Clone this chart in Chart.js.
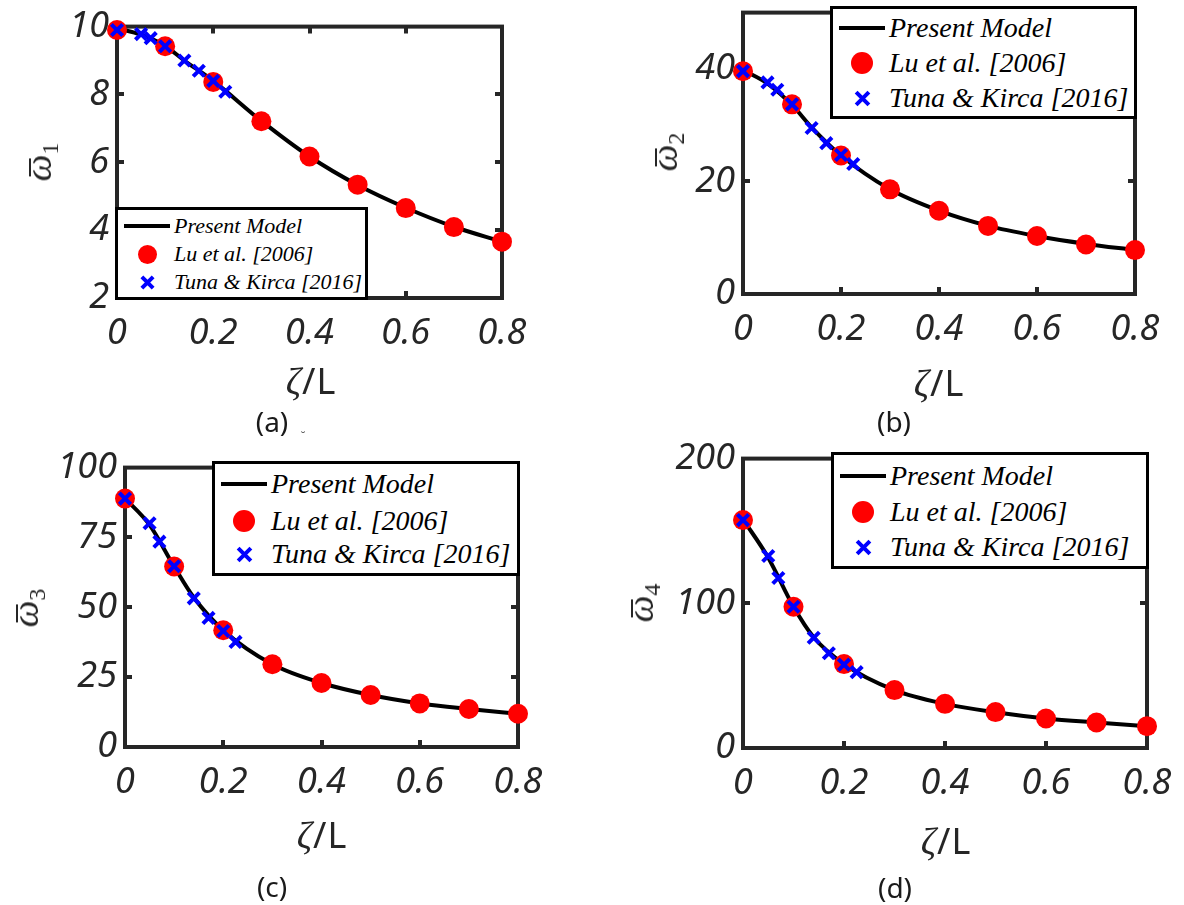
<!DOCTYPE html>
<html>
<head>
<meta charset="utf-8">
<script src="https://cdn.jsdelivr.net/npm/chart.js@4.4.0/dist/chart.umd.min.js"></script>
<style>
html,body{margin:0;padding:0;background:#fff;}
#root{position:relative;width:1184px;height:905px;overflow:hidden;background:#fff;}
#root canvas{position:absolute;}
.txt{position:absolute;white-space:nowrap;color:#262626;transform:translate(-50%,-50%);line-height:1;}
.xl{font-family:'Noto Sans',sans-serif;font-size:36px;letter-spacing:1px;}
.xl .z{font-family:'Liberation Serif',serif;font-style:italic;font-size:38px;}
.pl{font-family:'Noto Sans',sans-serif;font-size:28px;color:#1a1a1a;}
.yl{font-family:'Liberation Serif',serif;font-style:italic;font-size:38px;transform:translate(-50%,-50%) rotate(-90deg);}
.yl .om{position:relative;display:inline-block;line-height:1;}
.yl .om::before{content:'';position:absolute;left:0.14em;right:0.1em;top:0.27em;height:2px;background:#262626;}
.yl sub{font-family:'Liberation Serif',serif;font-style:normal;font-size:24px;vertical-align:-0.3em;line-height:0;}
.lgbox{position:absolute;background:#fff;border:3.5px solid #000;box-sizing:border-box;}
.lgline{position:absolute;height:4px;background:#000;}
.lgdot{position:absolute;border-radius:50%;background:#ff0000;}
.lgx{position:absolute;}
.lgtxt{position:absolute;white-space:nowrap;font-family:'Liberation Serif',serif;font-style:italic;color:#000;transform:translateY(-50%);line-height:1;}
</style>
</head>
<body>
<div id="root"></div>
<script>
// ---------------- data ----------------
const xTicks = [0, 0.2, 0.4, 0.6, 0.8];
const luX    = [0, 0.1, 0.2, 0.3, 0.4, 0.5, 0.6, 0.7, 0.8];
const tunaX  = [0, 0.05, 0.07, 0.1, 0.14, 0.17, 0.2, 0.225];
const modelX = [0, 0.05, 0.1, 0.14, 0.2, 0.3, 0.4, 0.5, 0.6, 0.7, 0.8];

const modelW1 = [9.95, 9.76, 9.43, 9.0, 8.4, 7.22, 6.17, 5.33, 4.66, 4.1, 3.66];
const luW1    = [9.9, 9.42, 8.37, 7.21, 6.17, 5.34, 4.65, 4.09, 3.66];
const tunaW1  = [9.9, 9.78, 9.66, 9.42, 9.0, 8.7, 8.4, 8.08];

const modelW2 = [39.8, 37.4, 33.6, 29.6, 24.6, 18.6, 14.8, 12.1, 10.3, 8.9, 7.8];
const luW2    = [39.6, 33.7, 24.6, 18.6, 14.8, 12.1, 10.3, 8.8, 7.8];
const tunaW2  = [39.6, 37.6, 36.3, 33.7, 29.5, 26.8, 24.7, 23.1];

const modelW3 = [89, 79.5, 64.6, 53.5, 41.8, 29.6, 22.9, 18.6, 15.6, 13.6, 11.9];
const luW3    = [88.9, 64.6, 41.8, 29.6, 22.9, 18.6, 15.6, 13.6, 11.9];
const tunaW3  = [88.9, 80.1, 73.5, 64.7, 53.2, 46.2, 41.5, 37.6];

const modelW4 = [158, 131.5, 97.6, 76.5, 58, 40, 30.5, 24.7, 20.4, 17.6, 15.1];
const luW4    = [157.5, 97.6, 58, 40, 30.5, 24.8, 20.4, 17.6, 15.1];
const tunaW4  = [157.5, 132.7, 117.5, 97.6, 76.2, 65.5, 57.6, 52.4];

const yTicksW1 = [2, 4, 6, 8, 10];
const yTicksW2 = [0, 20, 40];
const yTicksW3 = [0, 25, 50, 75, 100];
const yTicksW4 = [0, 100, 200];
const yRangeW1 = [2, 10];
const yRangeW2 = [0, 50];
const yRangeW3 = [0, 100];
const yRangeW4 = [0, 200];

const seriesNames = ['Present Model', 'Lu et al. [2006]', 'Tuna & Kirca [2016]'];
const xTitleSym = 'ζ';
const xTitleRest = '/L';
const panelLetters = ['(a)', '(b)', '(c)', '(d)'];
const modeIndex = ['1', '2', '3', '4'];

// ---------------- layout ----------------
const frames = [[117, 22, 502, 298], [743, 8, 1135, 294], [125, 463, 518, 747], [743, 454, 1147, 748]];
const yTitlePos = [[38, 162], [664, 152], [25, 608], [640, 603]];
const xTitlePos = [[311, 381], [939, 383], [322, 835], [946, 841]];
const letterPos = [[272, 421], [894, 421], [272, 886], [895, 887]];
const legendLayout = [
  {box: [117, 209, 366, 298], rows: [226, 254, 282], font: 22, dotR: 9.5, crossR: 7.5},
  {box: [832, 8, 1135, 117], rows: [28, 63, 98], font: 28, dotR: 11, crossR: 8.5},
  {box: [214, 463, 518, 574], rows: [484, 521, 554], font: 28, dotR: 11, crossR: 8.5},
  {box: [833, 454, 1147, 567], rows: [476, 512, 547], font: 28, dotR: 11, crossR: 8.5}
];
const yW = 110, padTop = 25, padR = 50, xH = 70;

const panels = [
  {model: modelW1, lu: luW1, tuna: tunaW1, yTicks: yTicksW1, yRange: yRangeW1},
  {model: modelW2, lu: luW2, tuna: tunaW2, yTicks: yTicksW2, yRange: yRangeW2},
  {model: modelW3, lu: luW3, tuna: tunaW3, yTicks: yTicksW3, yRange: yRangeW3},
  {model: modelW4, lu: luW4, tuna: tunaW4, yTicks: yTicksW4, yRange: yRangeW4}
];

const framePlugin = {
  id: 'matlabFrame',
  beforeDatasetsDraw(chart) {
    const {ctx, chartArea: {left, top, right, bottom}, scales: {x, y}} = chart;
    ctx.save();
    ctx.strokeStyle = '#262626';
    ctx.lineWidth = 4;
    ctx.lineCap = 'butt';
    ctx.strokeRect(left, top, right - left, bottom - top);
    const L = 7;
    x.ticks.forEach(t => {
      if (t.value <= x.min || t.value >= x.max) return;
      const px = Math.round(x.getPixelForValue(t.value));
      ctx.beginPath();
      ctx.moveTo(px, bottom); ctx.lineTo(px, bottom - L);
      ctx.moveTo(px, top); ctx.lineTo(px, top + L);
      ctx.stroke();
    });
    y.ticks.forEach(t => {
      if (t.value <= y.min || t.value >= y.max) return;
      const py = Math.round(y.getPixelForValue(t.value));
      ctx.beginPath();
      ctx.moveTo(left, py); ctx.lineTo(left + L, py);
      ctx.moveTo(right, py); ctx.lineTo(right - L, py);
      ctx.stroke();
    });
    ctx.restore();
  }
};

const root = document.getElementById('root');
const tickFont = {family: "'Noto Sans', sans-serif", size: 36, style: 'italic', weight: 'normal'};

panels.forEach((p, i) => {
  const [L, T, R, B] = frames[i];
  const cv = document.createElement('canvas');
  const w = (R - L) + yW + padR, h = (B - T) + padTop + xH;
  cv.width = w; cv.height = h;
  cv.style.width = w + 'px'; cv.style.height = h + 'px';
  cv.style.left = (L - yW) + 'px'; cv.style.top = (T - padTop) + 'px';
  root.appendChild(cv);

  new Chart(cv.getContext('2d'), {
    type: 'scatter',
    data: {
      datasets: [
        {label: seriesNames[0], data: modelX.map((x, k) => ({x, y: p.model[k]})), showLine: true,
         borderColor: '#000', borderWidth: 4, pointRadius: 0, cubicInterpolationMode: 'monotone',
         fill: false, order: 3, clip: false},
        {label: seriesNames[1], data: luX.map((x, k) => ({x, y: p.lu[k]})), showLine: false,
         pointStyle: 'circle', pointRadius: 10, backgroundColor: '#ff0000', borderColor: '#ff0000',
         pointBorderWidth: 0, order: 2, clip: false},
        {label: seriesNames[2], data: tunaX.map((x, k) => ({x, y: p.tuna[k]})), showLine: false,
         pointStyle: 'crossRot', pointRadius: 8, borderColor: '#0000ff', backgroundColor: '#0000ff',
         pointBorderWidth: 4, order: 1, clip: false}
      ]
    },
    options: {
      responsive: false, animation: false, devicePixelRatio: 1,
      layout: {padding: {left: 0, top: padTop, right: padR, bottom: 0}, autoPadding: false},
      plugins: {legend: {display: false}, tooltip: {enabled: false}},
      scales: {
        x: {
          type: 'linear', position: 'bottom', min: 0, max: 0.8,
          grid: {display: false, drawTicks: false}, border: {display: false},
          afterBuildTicks: s => { s.ticks = xTicks.map(v => ({value: v})); },
          afterFit: s => { s.height = xH; },
          ticks: {autoSkip: false, maxRotation: 0, minRotation: 0, padding: 14, color: '#262626', font: tickFont,
                  callback: v => (v === 0 ? '0' : Number(v).toFixed(1))}
        },
        y: {
          type: 'linear', position: 'left', min: p.yRange[0], max: p.yRange[1],
          grid: {display: false, drawTicks: false}, border: {display: false},
          afterBuildTicks: s => { s.ticks = p.yTicks.map(v => ({value: v})); },
          afterFit: s => { s.width = yW; },
          ticks: {padding: 8, color: '#262626', font: tickFont, callback: v => String(v)}
        }
      }
    },
    plugins: [framePlugin]
  });

  // axis titles and panel letter
  const yt = document.createElement('div');
  yt.className = 'txt yl';
  yt.style.left = yTitlePos[i][0] + 'px'; yt.style.top = yTitlePos[i][1] + 'px';
  yt.innerHTML = '<span class="om">ω</span><sub>' + modeIndex[i] + '</sub>';
  root.appendChild(yt);

  const xt = document.createElement('div');
  xt.className = 'txt xl';
  xt.style.left = xTitlePos[i][0] + 'px'; xt.style.top = xTitlePos[i][1] + 'px';
  xt.innerHTML = '<span class="z">' + xTitleSym + '</span>' + xTitleRest;
  root.appendChild(xt);

  const lt = document.createElement('div');
  lt.className = 'txt pl';
  lt.style.left = letterPos[i][0] + 'px'; lt.style.top = letterPos[i][1] + 'px';
  lt.textContent = panelLetters[i];
  root.appendChild(lt);

  // legend
  const lg = legendLayout[i];
  const [bx0, by0, bx1, by1] = lg.box;
  const box = document.createElement('div');
  box.className = 'lgbox';
  box.style.left = (bx0 - 1.75) + 'px'; box.style.top = (by0 - 1.75) + 'px';
  box.style.width = (bx1 - bx0 + 3.5) + 'px'; box.style.height = (by1 - by0 + 3.5) + 'px';
  root.appendChild(box);

  const ln = document.createElement('div');
  ln.className = 'lgline';
  ln.style.left = (bx0 + 7) + 'px'; ln.style.width = '46px'; ln.style.top = (lg.rows[0] - 2) + 'px';
  root.appendChild(ln);

  const dot = document.createElement('div');
  dot.className = 'lgdot';
  const d = lg.dotR * 2;
  dot.style.width = d + 'px'; dot.style.height = d + 'px';
  dot.style.left = (bx0 + 30 - lg.dotR) + 'px'; dot.style.top = (lg.rows[1] - lg.dotR) + 'px';
  root.appendChild(dot);

  const cr = lg.crossR, cs = Math.ceil(cr * 2 + 6);
  const xs = document.createElementNS('http://www.w3.org/2000/svg', 'svg');
  xs.setAttribute('class', 'lgx');
  xs.setAttribute('width', cs); xs.setAttribute('height', cs);
  xs.style.left = (bx0 + 30 - cs / 2) + 'px'; xs.style.top = (lg.rows[2] - cs / 2) + 'px';
  const c = cs / 2, a = cr * 0.75;
  xs.innerHTML = '<path d="M' + (c - a) + ' ' + (c - a) + 'L' + (c + a) + ' ' + (c + a) + 'M' + (c + a) + ' ' + (c - a) + 'L' + (c - a) + ' ' + (c + a) + '" stroke="#0000ff" stroke-width="4" fill="none"/>';
  root.appendChild(xs);

  seriesNames.forEach((name, k) => {
    const t = document.createElement('div');
    t.className = 'lgtxt';
    t.style.left = (bx0 + 57) + 'px'; t.style.top = lg.rows[k] + 'px';
    t.style.fontSize = lg.font + 'px';
    t.textContent = name;
    root.appendChild(t);
  });
});

// small stray mark below (a)
const mk = document.createElement('div');
mk.className = 'txt';
mk.style.left = '303px'; mk.style.top = '437px'; mk.style.fontSize = '14px'; mk.style.color = '#666';
mk.textContent = '˘';
root.appendChild(mk);
</script>
</body>
</html>
